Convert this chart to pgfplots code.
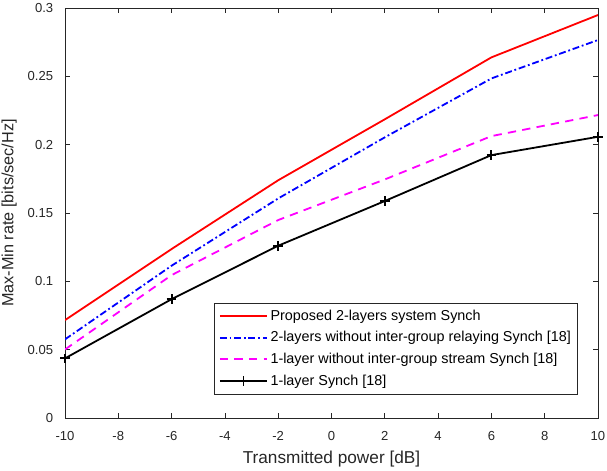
\documentclass[border=0pt]{standalone}
\usepackage{fontspec}
\setmainfont{Liberation Sans}
\usepackage{pgfplots}
\pgfplotsset{compat=1.18}
\definecolor{axgray}{rgb}{0.15,0.15,0.15}
\definecolor{mred}{rgb}{1,0,0}
\definecolor{mblue}{rgb}{0,0,1}
\definecolor{mmag}{rgb}{1,0,1}

\pgfplotstableread{
x     prop   twolay  onestr  onelay
-10   0.0717 0.0576  0.0502  0.0437
-6    0.1237 0.1115  0.1046  0.0870
-2    0.1740 0.1607  0.1449  0.1261
2     0.2186 0.2054  0.1746  0.1588
6     0.2639 0.2485  0.2063  0.1924
10    0.2949 0.2766  0.2217  0.2058
}\rates

\begin{document}
\begin{tikzpicture}
\begin{axis}[
    name=ax,
    scale only axis,
    width=383.7pt, height=295.2pt,
    xmin=-10, xmax=10, ymin=0, ymax=0.3,
    xtick={-10,-8,...,10},
    ytick={0,0.05,0.1,0.15,0.2,0.25,0.3},
    yticklabels={0,0.05,0.1,0.15,0.2,0.25,0.3},
    /pgf/number format/assume math mode=true,
    tick align=inside,
    major tick length=3.8pt,
    axis line style={axgray, line width=0.5pt},
    every tick/.style={axgray, line width=0.5pt},
    tick label style={font=\fontsize{9.4}{11}\selectfont, text=axgray},
    yticklabel style={xshift=-5pt},
    xticklabel style={yshift=-6pt},
    xlabel style={font=\fontsize{12.4}{14}\selectfont, text=axgray, yshift=-1pt},
    ylabel style={font=\fontsize{11.7}{14}\selectfont, text=axgray, yshift=1pt},
    xlabel={Transmitted power [dB]},
    ylabel={Max-Min rate [bits/sec/Hz]},
    legend style={at={(0.9625,0.058)}, anchor=south east,
        font=\fontsize{10.35}{12}\selectfont, draw=axgray, line width=0.5pt,
        row sep=3pt, inner xsep=3pt, inner ysep=3pt,
        nodes={inner sep=1.8pt}},
    legend cell align=left,
    legend image code/.code={
        \draw[mark repeat=2, mark phase=2, #1, line width=1.3pt] plot coordinates {(0pt,0pt) (17pt,0pt) (34pt,0pt)};
    },
]
\addplot[mred, line width=1.3pt] table[x=x, y=prop] {\rates};
\addplot[mblue, line width=1.3pt, dash pattern=on 5pt off 2pt on 1.3pt off 2pt] table[x=x, y=twolay] {\rates};
\addplot[mmag, line width=1.3pt, dash pattern=on 6pt off 4.5pt] table[x=x, y=onestr] {\rates};
\addplot[black, line width=1.3pt, mark=+, mark size=3.5pt, mark options={solid, line width=1.3pt}] table[x=x, y=onelay] {\rates};
\legend{Proposed 2-layers system Synch,
        2-layers without inter-group relaying Synch [18],
        1-layer without inter-group stream Synch [18],
        1-layer Synch [18]}
\end{axis}
\pgfresetboundingbox
\path ([xshift=-46.8pt, yshift=-37.4pt]ax.south west) rectangle ([xshift=6.5pt, yshift=5.8pt]ax.north east);
\end{tikzpicture}
\end{document}
